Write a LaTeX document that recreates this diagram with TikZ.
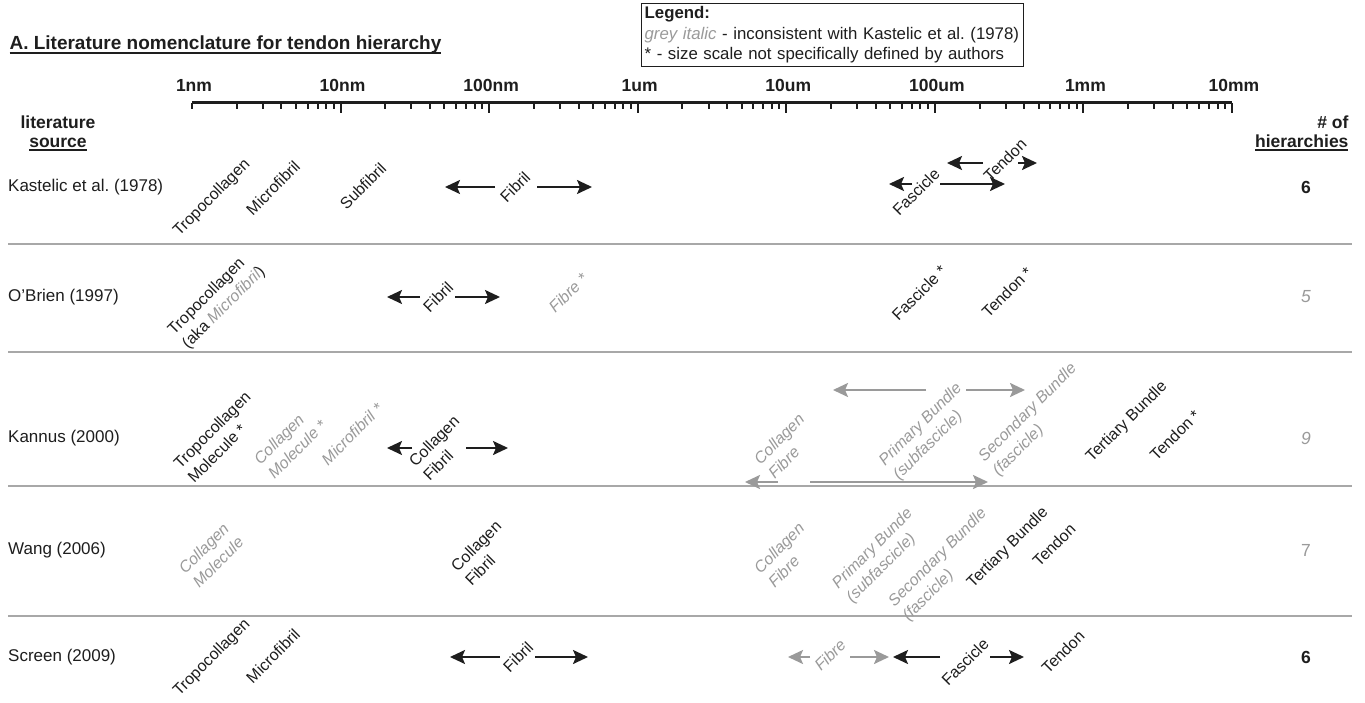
\documentclass[tikz,border=0pt]{standalone}
\usepackage{fontspec}
\setmainfont{Liberation Sans}
\usetikzlibrary{arrows.meta,positioning,calc}
\definecolor{Ink}{HTML}{1E1E1E}
\definecolor{Greytext}{HTML}{9A9A9A}
\definecolor{Rule}{HTML}{A8A8A8}
\newsavebox\undlbox
\newcommand{\undl}[2][-3pt]{\sbox\undlbox{#2}\rlap{\rule[#1]{\wd\undlbox}{1.6pt}}\usebox\undlbox}
\frenchspacing

\begin{document}
\begin{tikzpicture}[x=1pt,y=-1pt,
        nom/.style={rotate=45,align=left,inner sep=1pt,text=Ink,font=\fontsize{16}{20}\selectfont},
        nomgrey/.style={nom,text=Greytext,font=\fontsize{16}{20}\selectfont\itshape},
        srcname/.style={anchor=west,inner sep=0pt,text=Ink,font=\fontsize{17}{21}\selectfont},
        tally/.style={text=Ink,font=\fontsize{17.5}{21}\selectfont\bfseries},
        tallygrey/.style={text=Greytext,font=\fontsize{17.5}{21}\selectfont\itshape},
        scalelab/.style={anchor=base,text=Ink,font=\fontsize{17.5}{21}\selectfont\bfseries},
        head/.style={text=Ink,font=\fontsize{17.5}{19.5}\selectfont\bfseries,align=center},
        legendbox/.style={draw=Ink,line width=1.3pt,anchor=north west,align=left,inner sep=3pt,text width=376pt,text=Ink,font=\fontsize{16.8}{20.5}\selectfont},
        arr/.style={-{Stealth[length=15pt,width=14pt,inset=3pt]},line width=2pt,draw=Ink},
        arrgrey/.style={arr,draw=Greytext},
        divisor/.style={draw=Rule,line width=2pt}]
        \fill[white] (0,0) rectangle (1365,703);
        \useasboundingbox (0,0) rectangle (1365,703);
        % title and legend
        \node[anchor=west,text=Ink,font=\fontsize{19}{23}\selectfont\bfseries] (title) at (6,45) {\undl[-4pt]{A. Literature nomenclature for tendon hierarchy}};
        \node[legendbox] (leg) at (641,3) {\textbf{Legend:}\\\textcolor{Greytext}{\itshape grey italic} - inconsistent with Kastelic et al. (1978)\\{*} - size scale not specifically defined by authors};
        % size scale
        \draw[line width=3pt,draw=Ink] (192,103) -- (1232,103);
        \draw[line width=2pt,draw=Ink] (192,103) -- ++(0,6);
        \foreach \d in {0,...,6}{
          \foreach \m in {2,...,9}
            \draw[line width=2pt,draw=Ink] ({192+148.57*(\d+log10(\m))},103) -- ++(0,6);
          \draw[line width=2pt,draw=Ink] ({192+148.57*(\d+1)},103) -- ++(0,10);
        }
        \foreach \s [count=\i from 0] in {1nm,10nm,100nm,1um,10um,100um,1mm,10mm}
          \node[scalelab] (sc\i) at ({194+148.57*\i},92) {\s};
        % headers
        \node[head] (lit) at (58,133) {literature\\\undl{source}};
        \node[head,align=right,anchor=east] (hier) at (1352,133) {\# of\\\undl{hierarchies}};
        % row rules
        \foreach \y in {244,352,486,616}
          \draw[divisor] (8,\y) -- (1352,\y);
        % sources and counts
        \node[srcname] (kas) at (8,187) {Kastelic et al. (1978)};
        \node[srcname] (obr) at (8,297) {O'Brien (1997)};
        \node[srcname] (kan) at (8,438) {Kannus (2000)};
        \node[srcname] (wan) at (8,550) {Wang (2006)};
        \node[srcname] (scr) at (8,657) {Screen (2009)};
        \node[tally] (n1) at (1306,187) {6};
        \node[tallygrey] (n2) at (1306,297) {5};
        \node[tallygrey] (n3) at (1306,438) {9};
        \node[tallygrey,font=\fontsize{17.5}{21}\selectfont] (n4) at (1306,550) {7};
        \node[tally] (n5) at (1306,657) {6};
        % Kastelic
        \node[nom] (ktro) at (212,198) {Tropocollagen};
        \node[nom] (kmic) at (273,188) {Microfibril};
        \node[nom] (ksub) at (363,186) {Subfibril};
        \node[nom] (kfib) at (515,187) {Fibril};
        \node[nom] (kfas) at (916,192) {Fascicle};
        \node[nom] (kten) at (1005,160) {Tendon};
        \coordinate (kfibL) at (445,187);
        \coordinate (kfibR) at (592,187);
        \coordinate (kfasL) at (889,184);
        \coordinate (kfasR) at (1005,184);
        \coordinate (ktenL) at (947,163);
        \coordinate (ktenR) at (1037,163);
        \draw[arr,shorten <=20pt] (kfib.center) -- (kfibL);
        \draw[arr,shorten <=22pt] (kfib.center) -- (kfibR);
        \draw[arr,shorten <=4pt] ([yshift=8pt]kfas.center) -- (kfasL);
        \draw[arr,shorten <=24pt] ([yshift=8pt]kfas.center) -- (kfasR);
        \draw[arr,shorten <=22pt] ([yshift=-3pt]kten.center) -- (ktenL);
        \draw[arr,shorten <=13pt] ([yshift=-3pt]kten.center) -- (ktenR);
        % O'Brien
        \node[nom] (otro) at (217,301) {Tropocollagen\\(aka \textcolor{Greytext}{\itshape Microfibril})};
        \node[nom] (ofib) at (438,297) {Fibril};
        \node[nomgrey] (ofibre) at (568,293) {Fibre *};
        \node[nom] (ofas) at (919,293) {Fascicle *};
        \node[nom] (oten) at (1007,292) {Tendon *};
        \coordinate (ofibL) at (387,297);
        \coordinate (ofibR) at (500,297);
        \draw[arr,shorten <=18pt] (ofib.center) -- (ofibL);
        \draw[arr,shorten <=17pt] (ofib.center) -- (ofibR);
        % Kannus
        \node[nom] (atro) at (219,437) {Tropocollagen\\Molecule *};
        \node[nomgrey] (acmol) at (290,442) {Collagen\\Molecule *};
        \node[nomgrey] (amic) at (352,434) {Microfibril *};
        \node[nom] (acfib) at (441,448) {Collagen\\Fibril};
        \node[nomgrey] (acfibre) at (786,446) {Collagen\\Fibre};
        \node[nomgrey] (aprim) at (928,432) {Primary Bundle\\(subfascicle)};
        \node[nomgrey] (asec) at (1035,420) {Secondary Bundle\\(fascicle)};
        \node[nom] (ater) at (1127,422) {Tertiary Bundle};
        \node[nom] (aten) at (1175,435) {Tendon *};
        \coordinate (acfibL) at (387,448);
        \coordinate (acfibR) at (508,448);
        \coordinate (acfibreL) at (745,482);
        \coordinate (acfibreR) at (988,482);
        \coordinate (aprimL) at (833,390);
        \coordinate (aprimR) at (1025,390);
        \draw[arr,shorten <=29pt] (acfib.center) -- (acfibL);
        \draw[arr,shorten <=25pt] (acfib.center) -- (acfibR);
        \draw[arrgrey,shorten <=8pt] ([yshift=-36pt]acfibre.center) -- (acfibreL);
        \draw[arrgrey,shorten <=24pt] ([yshift=-36pt]acfibre.center) -- (acfibreR);
        \draw[arrgrey,shorten <=2pt] ([yshift=42pt]aprim.center) -- (aprimL);
        \draw[arrgrey,shorten <=38pt] ([yshift=42pt]aprim.center) -- (aprimR);
        % Wang
        \node[nomgrey] (wcmol) at (211,555) {Collagen\\Molecule};
        \node[nom] (wcfib) at (483,553) {Collagen\\Fibril};
        \node[nomgrey] (wcfibre) at (786,555) {Collagen\\Fibre};
        \node[nomgrey] (wprim) at (880,556) {Primary Bunde\\(subfascicle)};
        \node[nomgrey] (wsec) at (945,565) {Secondary Bundle\\(fascicle)};
        \node[nom] (wter) at (1008,548) {Tertiary Bundle};
        \node[nom] (wten) at (1054,545) {Tendon};
        % Screen
        \node[nom] (stro) at (212,658) {Tropocollagen};
        \node[nom] (smic) at (273,656) {Microfibril};
        \node[nom] (sfib) at (518,657) {Fibril};
        \node[nomgrey] (sfibre) at (830,655) {Fibre};
        \node[nom] (sfas) at (965,662) {Fascicle};
        \node[nom] (sten) at (1063,652) {Tendon};
        \coordinate (sfibL) at (450,657);
        \coordinate (sfibR) at (588,657);
        \coordinate (sfibreL) at (788,657);
        \coordinate (sfibreR) at (889,657);
        \coordinate (sfasL) at (893,657);
        \coordinate (sfasR) at (1024,657);
        \draw[arr,shorten <=18pt] (sfib.center) -- (sfibL);
        \draw[arr,shorten <=17pt] (sfib.center) -- (sfibR);
        \draw[arrgrey,shorten <=20pt] ([yshift=-2pt]sfibre.center) -- (sfibreL);
        \draw[arrgrey,shorten <=20pt] ([yshift=-2pt]sfibre.center) -- (sfibreR);
        \draw[arr,shorten <=25pt] ([yshift=5pt]sfas.center) -- (sfasL);
        \draw[arr,shorten <=25pt] ([yshift=5pt]sfas.center) -- (sfasR);
      \end{tikzpicture}
\end{document}
